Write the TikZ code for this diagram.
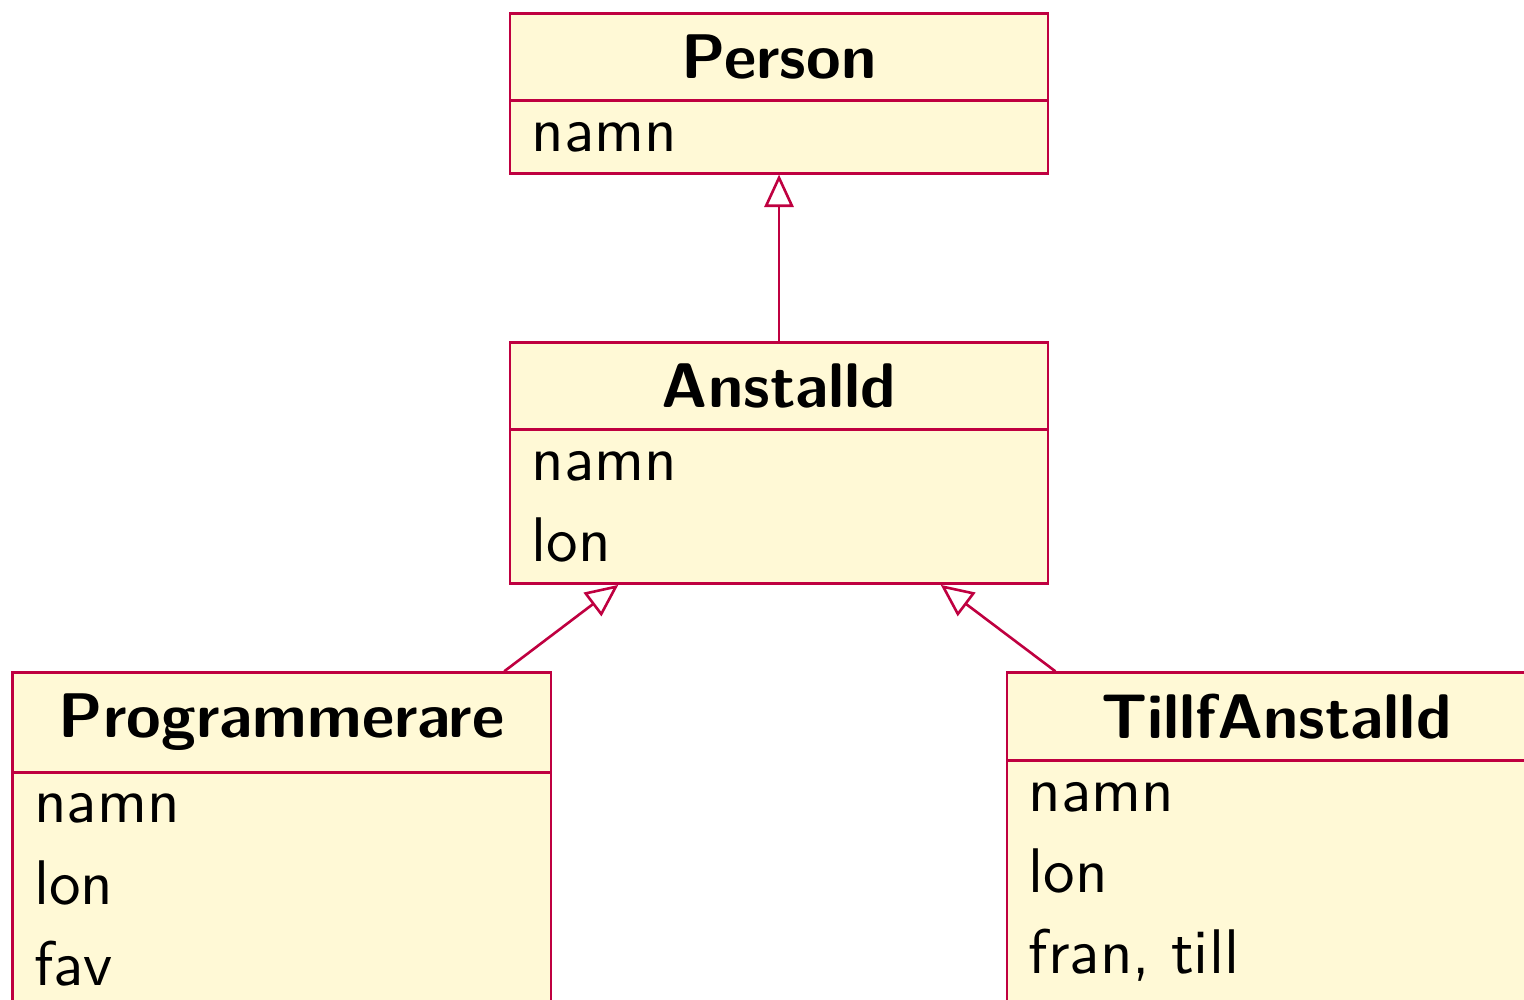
\documentclass[tikz,border=0pt]{standalone}
\usepackage{tikz}
\usetikzlibrary{shapes.multipart, arrows.meta, positioning}
\definecolor{umlborder}{RGB}{191,0,64}
\definecolor{umlfill}{RGB}{255,249,214}
\tikzset{
  umlclass/.style={rectangle split, rectangle split parts=2,
    rectangle split part align={center,left},
    draw=umlborder, fill=umlfill, minimum width=82.8pt,
    inner ysep=3.1pt, align=left,
    font=\sffamily\fontsize{9.7}{12.5}\selectfont},
  inherit/.style={-{Triangle[open,length=5pt,width=4.5pt]}, draw=umlborder},
}
\begin{document}
\begin{tikzpicture}[x=0.153846pt, y=-0.153846pt]
  \useasboundingbox (0,0) rectangle (1524,1000);

  \node[umlclass, anchor=north] (person) at (779,12)
       {\textbf{Person} \nodepart{second} namn};

  \node[umlclass, below=25.6pt of person] (anstalld)
       {\textbf{Anstalld} \nodepart{second} namn\\lon};

  \node[umlclass, below=13.3pt of anstalld, xshift=-76.5pt] (prog)
       {\textbf{Programmerare} \nodepart{second} namn\\lon\\fav};

  \node[umlclass, below=13.3pt of anstalld, xshift=76.5pt] (tillf)
       {\textbf{TillfAnstalld} \nodepart{second} namn\\lon\\fran, till};

  \draw[inherit] (anstalld) -- (person);
  \draw[inherit] (prog) -- (anstalld);
  \draw[inherit] (tillf) -- (anstalld);
\end{tikzpicture}
\end{document}
